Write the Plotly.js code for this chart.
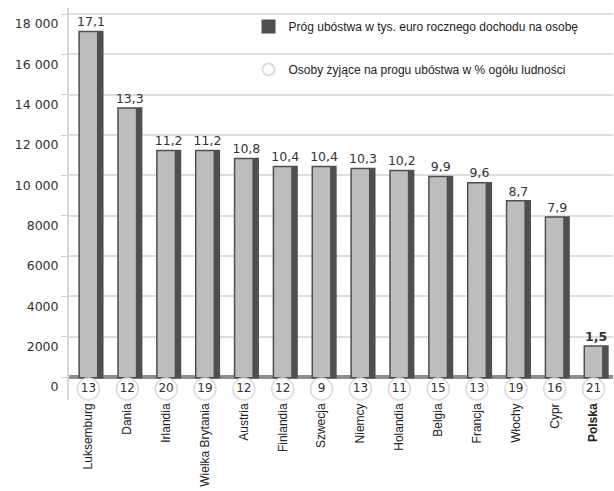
<!DOCTYPE html>
<html>
<head>
<meta charset="utf-8">
<script src="https://cdn.plot.ly/plotly-3.0.1.min.js"></script>
<style>html,body{margin:0;padding:0;background:#fff;}#chart{width:614px;height:491px;}</style>
</head>
<body>
<div id="chart"></div>
<script>
const categories = ['Luksemburg','Dania','Irlandia','Wielka Brytania','Austria','Finlandia','Szwecja','Niemcy','Holandia','Belgia','Francja','Włochy','Cypr','Polska'];
const thresholdThousandEuro = [17.1,13.3,11.2,11.2,10.8,10.4,10.4,10.3,10.2,9.9,9.6,8.7,7.9,1.5];
const povertyPercent = [13,12,20,19,12,12,9,13,11,15,13,19,16,21];
const yTickVals = [0,2000,4000,6000,8000,10000,12000,14000,16000,18000];
const yTickText = ['0','2000','4000','6000','8000','10 000','12 000','14 000','16 000','18 000'];
const seriesNames = ['Próg ubóstwa w tys. euro rocznego dochodu na osobę','Osoby żyjące na progu ubóstwa w % ogółu ludności'];
const highlight = 'Polska';

const barValues = thresholdThousandEuro.map(v => v * 1000);
const valueLabels = thresholdThousandEuro.map((v, i) => {
  const s = v.toFixed(1).replace('.', ',');
  return categories[i] === highlight ? '<b>' + s + '</b>' : s;
});
const catText = categories.map(c => c === highlight ? '<b>' + c + '</b>' : c);
const numFont = 'DejaVu Sans, Verdana, sans-serif';
const txtFont = 'Liberation Sans, Arial, sans-serif';

const traces = [
  {
    type: 'bar', x: categories, y: barValues, name: seriesNames[0],
    offset: -0.22, width: 0.57,
    marker: {color: '#4f4f4f', line: {color: '#4f4f4f', width: 3}},
    text: valueLabels, textposition: 'outside', cliponaxis: false, constraintext: 'none',
    textfont: {family: numFont, size: 12.5, color: '#333'},
    legendgroup: 'a', hoverinfo: 'skip'
  },
  {
    type: 'bar', x: categories, y: barValues, showlegend: false,
    offset: -0.22, width: 0.44,
    marker: {color: '#bdbdbd', line: {width: 0}},
    hoverinfo: 'skip'
  },
  {
    type: 'scatter', x: categories, y: povertyPercent.map(() => 0), yaxis: 'y2',
    name: seriesNames[1], mode: 'markers+text',
    text: povertyPercent.map(String), textposition: 'middle center',
    textfont: {family: numFont, size: 12, color: '#333'},
    marker: {symbol: 'circle', size: 22, color: '#ffffff', line: {color: '#dadada', width: 1.5}},
    cliponaxis: false, legendgroup: 'b', hoverinfo: 'skip'
  }
];

const layout = {
  width: 614, height: 491,
  margin: {l: 69, r: 1, t: 8, b: 91},
  paper_bgcolor: '#ffffff', plot_bgcolor: '#ffffff',
  barmode: 'overlay',
  showlegend: true,
  legend: {
    x: 0.33, y: 0.99, xanchor: 'left', yanchor: 'top',
    bgcolor: 'rgba(0,0,0,0)', borderwidth: 0,
    font: {family: txtFont, size: 12, color: '#222'},
    tracegroupgap: 24, traceorder: 'grouped', itemsizing: 'constant'
  },
  xaxis: {
    type: 'category', range: [-0.5, 13.5],
    tickvals: categories, ticktext: catText,
    tickangle: -90, showline: false, ticks: '', showgrid: false, zeroline: false,
    tickfont: {family: txtFont, size: 12, color: '#222'}
  },
  yaxis: {
    range: [-1140.5, 18297.5], tickvals: yTickVals, ticktext: yTickText,
    ticklabelshift: 10, ticks: 'outside', ticklen: 6, tickcolor: '#d0d0d0',
    showgrid: true, gridcolor: '#dedede', gridwidth: 2,
    zeroline: true, zerolinecolor: '#8e8e8e', zerolinewidth: 4,
    showline: true, linecolor: '#d8d8d8', linewidth: 2,
    tickfont: {family: numFont, size: 12.5, color: '#333'}
  },
  yaxis2: {overlaying: 'y', range: [-11, 381], visible: false}
};

Plotly.newPlot('chart', traces, layout, {displayModeBar: false, staticPlot: true});
</script>
</body>
</html>
